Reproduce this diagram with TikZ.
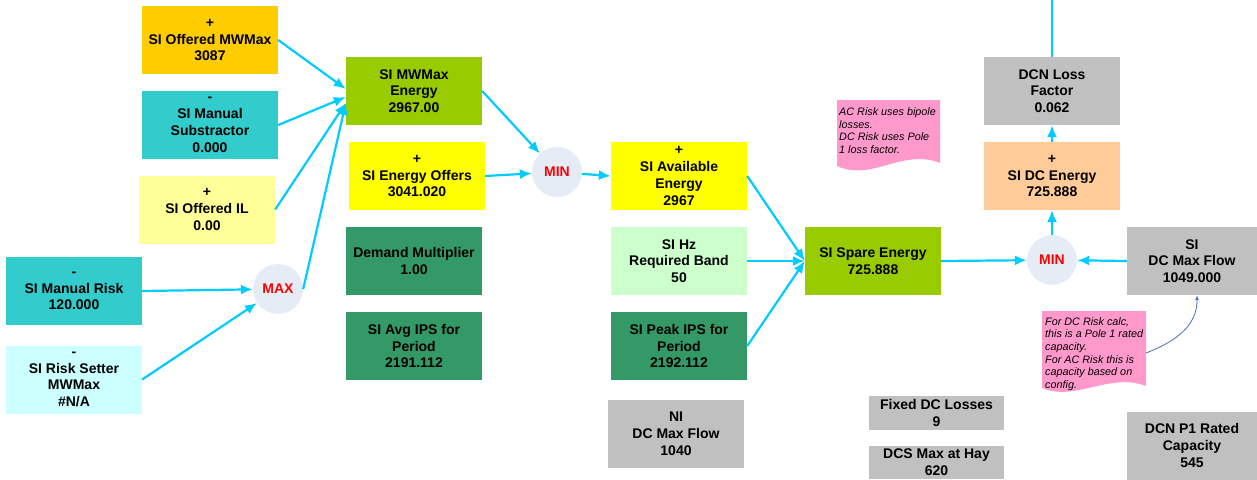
\documentclass[tikz,border=0pt]{standalone}
\usepackage{fontspec}
\setmainfont{Liberation Sans}
\usepackage{tikz}
\usetikzlibrary{arrows.meta}

\definecolor{gold}{HTML}{FFCC00}
\definecolor{teal}{HTML}{33CCCC}
\definecolor{paleyellow}{HTML}{FFFF99}
\definecolor{palecyan}{HTML}{CCFFFF}
\definecolor{lime}{HTML}{99CC00}
\definecolor{brightyellow}{HTML}{FFFF00}
\definecolor{seagreen}{HTML}{339966}
\definecolor{palegreen}{HTML}{CCFFCC}
\definecolor{silver}{HTML}{C0C0C0}
\definecolor{peach}{HTML}{FFCC99}
\definecolor{notepink}{HTML}{FF99CC}
\definecolor{opgrey}{HTML}{E6ECF6}
\definecolor{flowcyan}{HTML}{00CCFF}
\definecolor{noteblue}{HTML}{4472C4}

\begin{document}
\begin{tikzpicture}[x=1pt, y=-1pt,
    box/.style={rectangle, minimum width=136pt, minimum height=68pt,
      inner sep=0pt, align=center,
      font=\fontsize{14}{16.8}\selectfont\bfseries},
    op/.style={circle, fill=opgrey, minimum size=50pt, inner sep=0pt,
      text=red, font=\fontsize{14}{16}\selectfont\bfseries},
    flow/.style={->, draw=flowcyan, line width=2.2pt},
    note/.style={anchor=north west, align=left, inner sep=0pt,
      font=\fontsize{10.8}{12.7}\selectfont\itshape},
    >={Latex[length=12pt, width=10pt]}]
    \useasboundingbox (0, 0) rectangle (1257, 479);

    % inputs to the MWMax energy
    \node[box, fill=gold](offmw) at (210, 40){+\\SI Offered MWMax\\3087};
    \node[box, fill=teal](mansub) at (210, 125){-\\SI Manual\\Substractor\\0.000};
    \node[box, fill=paleyellow](offil) at (207, 209.5){+\\SI Offered IL\\0.00};

    % risk inputs
    \node[box, fill=teal](manrisk) at (74, 291){-\\SI Manual Risk\\120.000};
    \node[box, fill=palecyan](risk) at (74, 379.5){-\\SI Risk Setter\\MWMax\\\#N/A};
    \node[op](max) at (278, 289){MAX};

    % second column
    \node[box, fill=lime](mwe) at (414, 91){SI MWMax\\Energy\\2967.00};
    \node[box, fill=brightyellow](eoff) at (417, 176){+\\SI Energy Offers\\3041.020};
    \node[box, fill=seagreen](dmult) at (414, 261){Demand Multiplier\\1.00};
    \node[box, fill=seagreen](avgips) at (414, 346){SI Avg IPS for\\Period\\2191.112};

    % MIN 1
    \node[op](min1) at (557, 172){MIN};

    % third column
    \node[box, fill=brightyellow](ave) at (679, 176){+\\SI Available\\Energy\\2967};
    \node[box, fill=palegreen](hz) at (679, 261){SI Hz\\Required Band\\50};
    \node[box, fill=seagreen](peak) at (679, 346){SI Peak IPS for\\Period\\2192.112};
    \node[box, fill=silver](nimax) at (676, 433.5){NI\\DC Max Flow\\1040};

    % spare energy
    \node[box, fill=lime](spare) at (873, 261){SI Spare Energy\\725.888};

    % DC side
    \node[op](min2) at (1052, 260){MIN};
    \node[box, fill=peach](dce) at (1052, 176){+\\SI DC Energy\\725.888};
    \node[box, fill=silver](dcn) at (1052, 91){DCN Loss\\Factor\\0.062};
    \node[box, fill=silver, minimum width=130pt](dcmax) at (1192, 261){SI\\DC Max Flow\\1049.000};
    \coordinate (topend) at (1052, 0);

    % loose values
    \node[box, fill=silver, minimum width=135pt, minimum height=34pt](fixed) at (936.5, 413){Fixed DC Losses\\9};
    \node[box, fill=silver, minimum width=135pt, minimum height=33pt](dcs) at (936.5, 462.5){DCS Max at Hay\\620};
    \node[box, fill=silver, minimum width=130pt](p1) at (1192, 445.5){DCN P1 Rated\\Capacity\\545};

    % notes
    \fill[notepink] (837, 100) -- (940, 100) -- (940, 163)
      .. controls (902, 148) and (872, 182) .. (837, 166) -- cycle;
    \node[note](acnote) at (839, 107.5){AC Risk uses bipole\\losses.\\DC Risk uses Pole\\1 loss factor.};
    \fill[notepink] (1042, 311) -- (1146, 311) -- (1146, 386)
      .. controls (1110, 372) and (1075, 402) .. (1042, 388) -- cycle;
    \node[note](dcnote) at (1045, 317){For DC Risk calc,\\this is a Pole 1 rated\\capacity.\\For AC Risk this is\\capacity based on\\config.};
    \coordinate (notetail) at (1146, 353);
    \draw [->, >={Latex[length=5pt, width=4pt]}, draw=noteblue, line width=0.8pt]
      (notetail) .. controls (1185, 338) and (1197, 320) .. ([xshift=5pt]dcmax.south);

    % connectors
    \draw [flow] (offmw.east) -- ([yshift=2pt]mwe.west);
    \draw [flow] (mansub.east) -- ([yshift=-6pt]mwe.west);
    \draw [flow] (offil.east) -- ([yshift=-12pt]mwe.west);
    \draw [flow] (max.east) -- ([yshift=-12pt]mwe.west);
    \draw [flow] (manrisk.east) -- (max);
    \draw [flow] (risk.east) -- (max);
    \draw [flow] (mwe.east) -- (min1);
    \draw [flow] (eoff.east) -- (min1);
    \draw [flow] (min1) -- (ave.west);
    \draw [flow] (ave.east) -- (spare.west);
    \draw [flow] (hz.east) -- (spare.west);
    \draw [flow] (peak.east) -- (spare.west);
    \draw [flow] (spare.east) -- (min2);
    \draw [flow] (dcmax.west) -- (min2);
    \draw [flow] (min2) -- (dce.south);
    \draw [flow] (dce.north) -- (dcn.south);
    \draw [draw=flowcyan, line width=2.2pt] (dcn.north) -- (topend);
\end{tikzpicture}
\end{document}
